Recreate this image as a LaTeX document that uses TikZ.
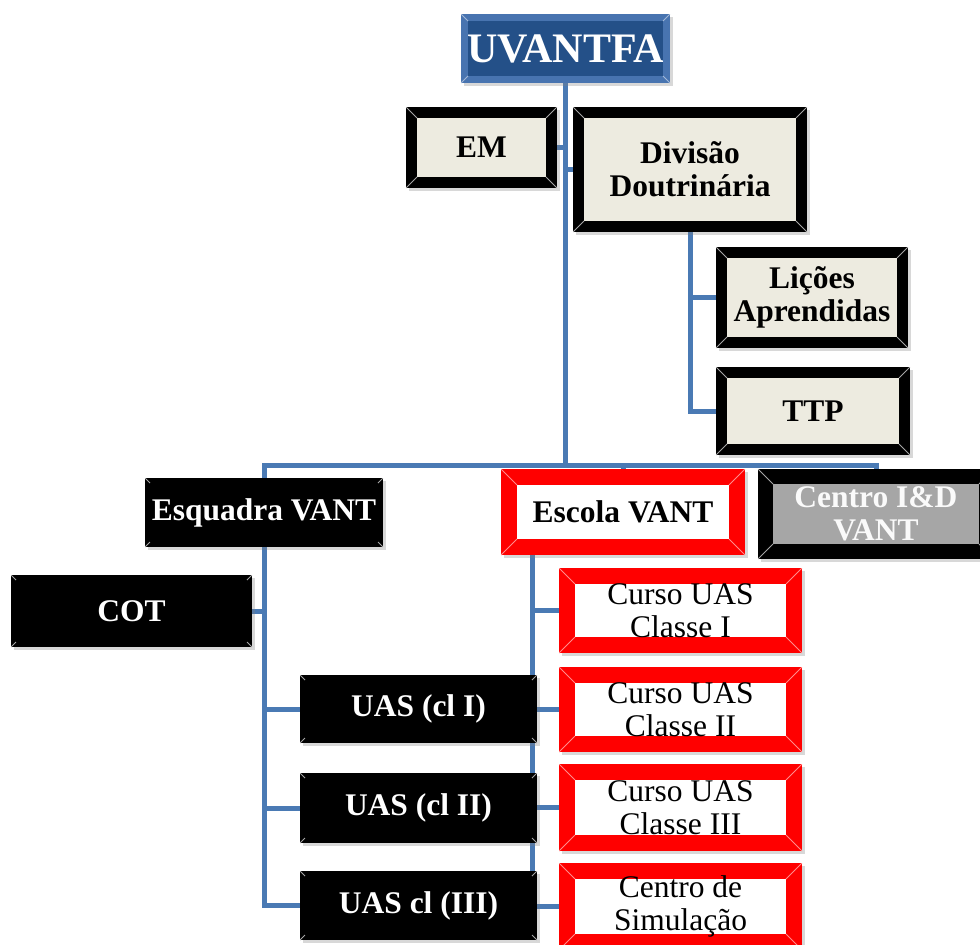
\documentclass[tikz,border=0pt]{standalone}
\usepackage{fontspec}
\setmainfont{Liberation Serif}
\usetikzlibrary{shadows,calc}
\pgfdeclarelayer{bg}
\pgfsetlayers{bg,main}
\definecolor{lineblue}{RGB}{74,122,180}
\definecolor{beige}{RGB}{237,235,224}
\definecolor{topblue}{RGB}{36,80,136}
\definecolor{topbevel}{RGB}{72,116,176}
\definecolor{cidgray}{RGB}{166,166,166}
\newcommand\boxfont{\fontsize{31.5}{33}\selectfont}
\tikzset{
  bx/.style n args={4}{inner sep=0pt, outer sep=0pt, fill=#1, align=center,
    drop shadow={shadow xshift=2.5pt, shadow yshift=-2.5pt, opacity=0.3},
    path picture={
      \fill[#2] ([shift={(#3,-#3)}]path picture bounding box.north west)
        rectangle ([shift={(-#3,#3)}]path picture bounding box.south east);
      \draw[#4, line width=0.9pt]
        (path picture bounding box.north west) -- ([shift={(#3,-#3)}]path picture bounding box.north west)
        (path picture bounding box.north east) -- ([shift={(-#3,-#3)}]path picture bounding box.north east)
        (path picture bounding box.south west) -- ([shift={(#3,#3)}]path picture bounding box.south west)
        (path picture bounding box.south east) -- ([shift={(-#3,#3)}]path picture bounding box.south east);
    }},
  topbox/.style={bx={topbevel}{topblue}{7pt}{topbevel!50!white}, text=white,
    font=\bfseries\fontsize{42}{44}\selectfont},
  beigebox/.style={bx={black}{beige}{11pt}{gray!70}, text=black, font=\bfseries\boxfont},
  blackbox/.style={bx={black}{black}{5pt}{gray!70}, text=white, font=\bfseries\boxfont},
  redbox/.style={bx={red}{white}{16pt}{red!45!white}, text=black, font=\boxfont},
  cidbox/.style={bx={black}{cidgray}{15pt}{gray!70}, text=white!96!gray, font=\bfseries\boxfont},
  conn/.style={draw=lineblue, line width=5pt},
}
\begin{document}
\begin{tikzpicture}[x=1pt,y=-1pt]
\useasboundingbox (0,0) rectangle (980,945);
\clip (0,0) rectangle (980,945);

\node[topbox, minimum width=209pt, minimum height=69pt] (top) at (565.5,48.5) {UVANTFA};
\node[beigebox, minimum width=151pt, minimum height=81pt] (em) at (481.5,147.5) {EM};
\node[beigebox, minimum width=234pt, minimum height=125pt] (div) at (690,169.5) {Divisão\\Doutrinária};
\node[beigebox, minimum width=192pt, minimum height=101pt] (lic) at (812,297.5) {Lições\\Aprendidas};
\node[beigebox, minimum width=194pt, minimum height=88pt] (ttp) at (813,411) {TTP};

\node[blackbox, minimum width=238pt, minimum height=69pt] (esq) at (264,512.5) {Esquadra VANT};
\node[redbox, minimum width=244pt, minimum height=86pt] (esc) at (623,512) {\bfseries Escola VANT};
\node[cidbox, minimum width=236pt, minimum height=90pt] (cid) at (876,514) {Centro I\&D\\VANT};

\node[blackbox, minimum width=241pt, minimum height=72pt] (cot) at (131.5,611) {COT};
\node[redbox, minimum width=243pt, minimum height=85pt] (c1) at (680.5,610.5) {Curso UAS\\Classe I};
\node[redbox, minimum width=243pt, minimum height=85pt] (c2) at (680.5,709.5) {Curso UAS\\Classe II};
\node[redbox, minimum width=243pt, minimum height=87pt] (c3) at (680.5,807.5) {Curso UAS\\Classe III};
\node[redbox, minimum width=243pt, minimum height=87pt] (sim) at (680.5,906.5) {Centro de\\Simulação};

\node[blackbox, minimum width=237pt, minimum height=68pt] (u1) at (418.5,709) {UAS (cl I)};
\node[blackbox, minimum width=237pt, minimum height=70pt] (u2) at (418.5,808) {UAS (cl II)};
\node[blackbox, minimum width=237pt, minimum height=69pt] (u3) at (418.5,905.5) {UAS cl (III)};

\coordinate (bus) at (0,465);
\path (esc.south west) ++(31pt,0pt) coordinate (ev);

\begin{pgfonlayer}{bg}
\fill[white] (0,0) rectangle (980,945);
\draw[conn] (top.south) -- (top.south |- bus);
\draw[conn] (em.east) -- (em.east -| top.south);
\draw[conn] (div.west) -- (div.west -| top.south);
\draw[conn] (esq.north) -- (esq.north |- bus) -- (cid.north |- bus) -- (cid.north);
\draw[conn] (esc.north |- bus) -- (esc.north);
\draw[conn] (div.south) |- (ttp.west);
\draw[conn] (div.south |- lic.west) -- (lic.west);
\draw[conn] (esq.south) |- (u3.west);
\draw[conn] (esq.south |- cot.east) -- (cot.east);
\draw[conn] (esq.south |- u1.west) -- (u1.west);
\draw[conn] (esq.south |- u2.west) -- (u2.west);
\draw[conn] (ev) |- (sim.west);
\draw[conn] (ev |- c1.west) -- (c1.west);
\draw[conn] (ev |- c2.west) -- (c2.west);
\draw[conn] (ev |- c3.west) -- (c3.west);
\end{pgfonlayer}
\end{tikzpicture}
\end{document}
